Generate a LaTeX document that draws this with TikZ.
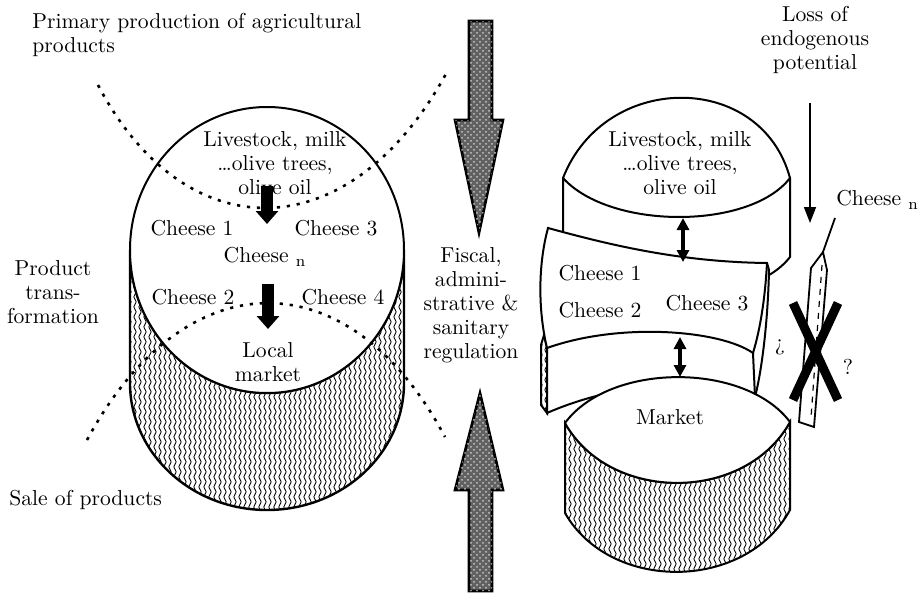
\documentclass[tikz,border=0pt]{standalone}
\usetikzlibrary{arrows.meta, decorations.pathmorphing, patterns}
\tikzset{
  lbl/.style     = {font=\fontsize{10.8}{12}\selectfont, align=center, inner sep=1pt},
  outline/.style = {draw, line width=1pt, fill=white},
  dotline/.style = {line width=1.3pt, dash pattern=on 1.6pt off 3.4pt},
  wavy/.style    = {line width=0.42pt, decorate,
                    decoration={snake, amplitude=0.6pt, segment length=5pt}},
  hatch/.style   = {path picture={
                      \foreach \hx in {0,2.5,...,160}
                        \draw[wavy] ([xshift=\hx*1pt]path picture bounding box.south west)
                                 -- ([xshift=\hx*1pt]path picture bounding box.north west);}},
  fatarr/.style  = {-{Triangle[length=6.5pt, width=11pt]}, line width=6pt},
  twoarr/.style  = {{Triangle[length=6pt, width=6pt]}-{Triangle[length=6pt, width=6pt]},
                    line width=1.6pt},
  thinarr/.style = {-{Triangle[length=8pt, width=6pt]}, line width=0.8pt},
  bigarr/.style  = {draw, line width=1.3pt, fill=black!62,
                    postaction={pattern=crosshatch dots, pattern color=gray!45}},
  cross/.style   = {line width=4.5pt}
}

\begin{document}
\begin{tikzpicture}[x=0.5pt, y=-0.5pt]
  \useasboundingbox (0,0) rectangle (923,594);

  % ── Left: traditional cheese (cylinder) ───────────────────────────────────
  \path[outline, line width=1.2pt, hatch] (130,250) -- (130,383)
    arc[start angle=180, end angle=360, x radius=68.5pt, y radius=63.5pt]
    -- (404,250)
    arc[start angle=0, end angle=-180, x radius=68.5pt, y radius=71.5pt] -- cycle;
  \path[outline] (267,250) ellipse [x radius=68.5pt, y radius=71.5pt];

  \node[lbl] (LivestockL) at (275,163) {Livestock, milk\\\ldots olive trees,\\olive oil};
  \node[lbl] (Cheese1L) at (192,228) {Cheese 1};
  \node[lbl] (Cheese3L) at (336,228) {Cheese 3};
  \node[lbl] (CheesenL) at (265,257) {Cheese $_\mathrm{n}$};
  \node[lbl] (Cheese2L) at (193,297) {Cheese 2};
  \node[lbl] (Cheese4L) at (343,297) {Cheese 4};
  \node[lbl] (LocalMkt) at (268,362) {Local\\market};

  \coordinate (ArrAtop) at (267,186);
  \coordinate (ArrAbot) at (267,224);
  \coordinate (ArrBtop) at (268,284);
  \coordinate (ArrBbot) at (268,329);
  \draw[fatarr] (ArrAtop) -- (ArrAbot);
  \draw[fatarr] (ArrBtop) -- (ArrBbot);

  % dotted stage borders
  \draw[dotline] (98,85) .. controls (185,251) and (350,251) .. (447,72);
  \draw[dotline] (87,440) .. controls (185,258) and (350,258) .. (445,437);

  % ── Left labels ───────────────────────────────────────────────────────────
  \node[lbl, align=left, anchor=west] (Primary) at (30,35)
    {Primary production of agricultural\\products};
  \node[lbl] (Transf) at (53,292) {Product\\trans-\\formation};
  \node[lbl, anchor=west] (Sale) at (7,500) {Sale of products};

  % ── Middle: regulation pressure ───────────────────────────────────────────
  \path[bigarr] (469,21) -- (492,21) -- (492,120) -- (503,120) -- (479,233)
    -- (455,120) -- (469,120) -- cycle;
  \path[bigarr] (480,393) -- (503,490) -- (492,490) -- (492,591) -- (469,591)
    -- (469,490) -- (455,490) -- cycle;
  \node[lbl] (Regul) at (471,305)
    {Fiscal,\\admini-\\strative \&\\sanitary\\regulation};

  % ── Right: split pieces ───────────────────────────────────────────────────
  % top piece
  \path[outline] (563,178) .. controls (605,71) and (761,71) .. (790,178)
    -- (790,257) .. controls (750,309) and (610,309) .. (563,257) -- cycle;
  \draw[line width=1pt] (563,178) .. controls (610,230) and (750,230) .. (790,178);
  \node[lbl] (LivestockR) at (680,163) {Livestock, milk\\\ldots olive trees,\\olive oil};

  % cheese band
  \path[outline, hatch] (544,335) -- (541,345) -- (541,405) -- (547,413) -- (547,348) -- cycle;
  \path[outline] (548,228) .. controls (610,245) and (680,262) .. (767,263)
    -- (769,270) .. controls (768,320) and (762,370) .. (755,397)
    .. controls (722,375) and (622,380) .. (547,413) -- (547,348)
    .. controls (538,310) and (538,265) .. (548,228) -- cycle;
  \draw[line width=1pt] (547,348) .. controls (620,322) and (720,330) .. (753,353)
    -- (755,397);
  \draw[line width=1pt] (767,263) .. controls (765,300) and (760,330) .. (753,353);
  \node[lbl] (Cheese1R) at (600,273) {Cheese 1};
  \node[lbl] (Cheese2R) at (600,310) {Cheese 2};
  \node[lbl] (Cheese3R) at (707,303) {Cheese 3};

  % market piece
  \path[outline, hatch] (565,423) -- (565,513) .. controls (610,592) and (745,592) .. (790,510)
    -- (790,422) .. controls (745,503) and (610,503) .. (565,423) -- cycle;
  \path[outline] (565,423) .. controls (610,362) and (745,362) .. (790,422)
    .. controls (745,503) and (610,503) .. (565,423) -- cycle;
  \node[lbl] (Market) at (670,417) {Market};

  \coordinate (TopLink) at (683,218);
  \coordinate (BandTop) at (683,262);
  \coordinate (BandBot) at (680,337);
  \coordinate (MktTop)  at (680,377);
  \draw[twoarr] (TopLink) -- (BandTop);
  \draw[twoarr] (BandBot) -- (MktTop);

  % ── Lost cheese ───────────────────────────────────────────────────────────
  \node[lbl] (Loss) at (815,40) {Loss of\\endogenous\\potential};
  \coordinate (LossA) at (810,103);
  \coordinate (LossB) at (810,223);
  \draw[thinarr] (LossA) -- (LossB);

  \node[lbl, anchor=west] (CheesenR) at (834,200) {Cheese $_\mathrm{n}$};
  \coordinate (SliverTip) at (823,252);
  \draw[line width=0.9pt] (835,218) -- (SliverTip);
  \path[draw, line width=0.9pt, fill=white] (SliverTip) -- (811,268) -- (799,422)
    -- (814,427) -- (827,270) -- cycle;
  \draw[dashed, line width=0.6pt] (822,265) -- (811,418);
  \draw[cross] (793,303) -- (838,400);
  \draw[cross] (838,303) -- (793,400);
  \node[lbl] (Qopen)  at (780,347) {¿};
  \node[lbl] (Qclose) at (848,367) {?};

\end{tikzpicture}
\end{document}
